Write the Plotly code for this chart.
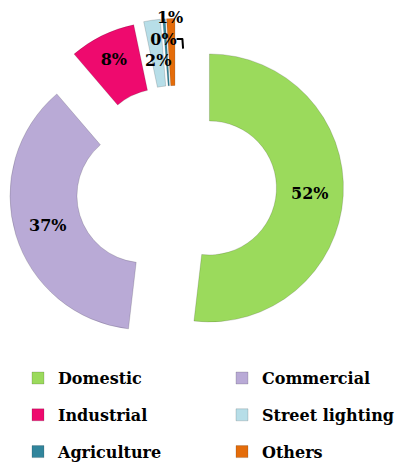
import plotly.graph_objects as go

categories = ["Domestic", "Commercial", "Industrial", "Street lighting", "Agriculture", "Others"]
values = [52, 37, 8, 2, 0.3, 1]
colors = ["#9BDA5C", "#B9AAD6", "#EE0A6E", "#B7DEE8", "#31859C", "#E46C0A"]
big_slice = [True, True, True, False, False, False]
# how far out the labels of the thin slices sit (stacked so they do not collide)
thin_label_pull = [0, 0, 0, 0, 0.1748, 0.3538]

legend_labels = [f"<span style='font-size:16px;baseline-shift:4px'>{c}</span>" for c in categories]
label_font = dict(family="DejaVu Serif", size=16, color="black", weight="bold")

# main exploded doughnut
main = go.Pie(
    labels=legend_labels,
    values=values,
    sort=False,
    direction="clockwise",
    rotation=0,
    hole=0.5,
    pull=[0.25] * len(values),
    marker=dict(colors=colors, line=dict(color="rgba(0,0,0,0.25)", width=0.6)),
    texttemplate=["%{percent:.0%}" if b else "" for b in big_slice],
    textposition=["inside" if b else "none" for b in big_slice],
    insidetextorientation="horizontal",
    textfont=label_font,
    domain=dict(x=[0.0012, 0.8264], y=[0.2586, 0.9775]),
    hoverinfo="label+percent",
)

# transparent companion pie that carries the labels of the thin slices
labels_pie = go.Pie(
    labels=legend_labels,
    values=values,
    sort=False,
    direction="clockwise",
    rotation=0,
    pull=thin_label_pull,
    marker=dict(colors=["rgba(0,0,0,0)"] * len(values)),
    texttemplate=["" if b else "%{percent:.0%}" for b in big_slice],
    textposition=["none" if b else "outside" for b in big_slice],
    textfont=label_font,
    domain=dict(x=[0.0646, 0.8468], y=[0.2773, 0.9588]),
    showlegend=False,
    hoverinfo="skip",
)

fig = go.Figure([main, labels_pie])

fig.update_layout(
    width=406,
    height=466,
    margin=dict(l=0, r=0, t=0, b=0, autoexpand=False),
    paper_bgcolor="white",
    plot_bgcolor="white",
    showlegend=True,
    legend=dict(
        orientation="h",
        x=0.0246,
        y=0.2562,
        xanchor="left",
        yanchor="top",
        entrywidth=159,
        entrywidthmode="pixels",
        font=dict(family="DejaVu Serif", size=26, color="black", weight="bold"),
        bgcolor="rgba(0,0,0,0)",
    ),
)

fig.write_html("out.html")
